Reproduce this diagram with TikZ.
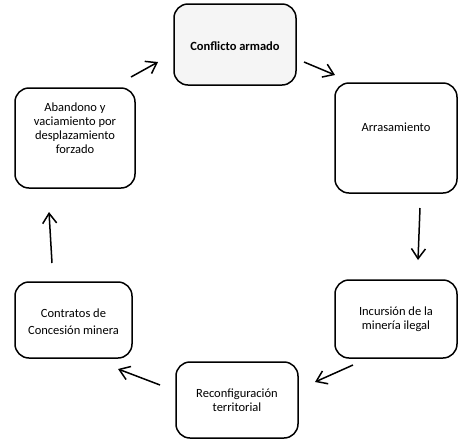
\documentclass[tikz,border=0pt]{standalone}
\usepackage{fontspec}
\setmainfont{Carlito}
\usetikzlibrary{arrows.meta}
\begin{document}
\begin{tikzpicture}[x=1pt,y=-1pt,
  box/.style={draw, line width=1.5pt, rounded corners=14pt, inner sep=0pt},
  txt/.style={align=center, font=\fontsize{12.5}{14}\selectfont, inner sep=0pt},
  arr/.style={-{Straight Barb[length=10pt,width=14pt]}, line width=1.5pt}]
\useasboundingbox (0,0) rectangle (459,440);
% boxes
\node[box, fill=black!4, minimum width=122pt, minimum height=81pt] (c1) at (235,44.5) {};
\node[box, minimum width=122pt, minimum height=110pt] (c2) at (396,138) {};
\node[box, minimum width=122pt, minimum height=78pt] (c3) at (396,319) {};
\node[box, minimum width=122pt, minimum height=76pt] (c4) at (237,400) {};
\node[box, minimum width=117pt, minimum height=76pt] (c5) at (73.5,320) {};
\node[box, minimum width=120pt, minimum height=100pt] (c6) at (75,138) {};
% texts
\node[txt, font=\fontsize{12.5}{14}\selectfont\bfseries] (t1) at (235,46) {Conflicto armado};
\node[txt] (t2) at (396,127) {Arrasamiento};
\node[txt] (t3) at (396,319) {Incursión de la\\minería ilegal};
\node[txt] (t4) at (237,400) {Reconfiguración\\territorial};
\node[txt, font=\fontsize{12.5}{17}\selectfont] (t5) at (73.5,322) {Contratos de\\Concesión minera};
\node[txt] (t6) at (75,128) {Abandono y\\vaciamiento por\\desplazamiento\\forzado};
% arrow ends
\coordinate (a1s) at (131,77); \coordinate (a1e) at (158,62);
\coordinate (a2s) at (304,62); \coordinate (a2e) at (335,75);
\coordinate (a3s) at (420,208); \coordinate (a3e) at (418,260);
\coordinate (a4s) at (353,365); \coordinate (a4e) at (315,382);
\coordinate (a5s) at (160,385); \coordinate (a5e) at (118,369);
\coordinate (a6s) at (52,263); \coordinate (a6e) at (49,212);
\draw[arr] (a1s) -- (a1e);
\draw[arr] (a2s) -- (a2e);
\draw[arr] (a3s) -- (a3e);
\draw[arr] (a4s) -- (a4e);
\draw[arr] (a5s) -- (a5e);
\draw[arr] (a6s) -- (a6e);
\end{tikzpicture}
\end{document}
